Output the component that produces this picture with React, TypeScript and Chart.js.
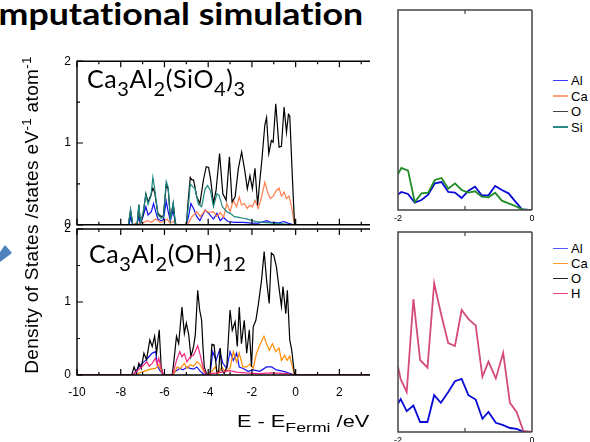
import React, { useEffect, useRef } from "react";
import { Chart, registerables } from "chart.js";

Chart.register(...registerables);
Chart.defaults.font.family = "'Liberation Sans', Arial, sans-serif";
Chart.defaults.color = "#000";

// ---------- Ca3Al2(SiO4)3 (upper left panel) ----------
const sioO_E = [-10, -7.65, -7.55, -7.45, -7.25, -7.17, -7.1, -6.98, -6.85, -6.75, -6.62, -6.53, -6.45, -6.3, -6.15, -6.05, -5.92, -5.83, -5.73, -5.6, -5.5, -5.4, -5.0, -4.9, -4.82, -4.75, -4.67, -4.52, -4.38, -4.21, -4.09, -3.98, -3.88, -3.76, -3.64, -3.48, -3.33, -3.18, -3.03, -2.91, -2.77, -2.62, -2.47, -2.32, -2.21, -2.09, -1.98, -1.86, -1.74, -1.64, -1.56, -1.41, -1.33, -1.23, -1.11, -1.03, -0.91, -0.76, -0.65, -0.53, -0.42, -0.33, -0.27, -0.15, -0.05, 3.5];
const sioO = [0, 0, 0.18, 0, 0.01, 0.24, 0.02, 0.12, 0.38, 0.28, 0.36, 0.45, 0.40, 0.14, 0.10, 0.11, 0.48, 0.44, 0.08, 0.26, 0.01, 0, 0, 0.34, 0.58, 0.55, 0.55, 0.34, 0.26, 0.56, 0.71, 0.70, 0.54, 0.26, 0.42, 0.87, 0.38, 0.30, 0.83, 0.28, 0.34, 0.69, 0.89, 0.65, 0.44, 0.60, 0.44, 0.69, 0.24, 0.54, 0.75, 1.22, 1.31, 0.87, 1.03, 1.01, 1.48, 0.95, 0.96, 1.44, 1.13, 1.35, 1.33, 0.58, 0, 0];

const sioSi_E = [-10, -7.65, -7.55, -7.45, -7.25, -7.17, -7.1, -6.98, -6.85, -6.75, -6.62, -6.53, -6.45, -6.3, -6.15, -6.05, -5.92, -5.83, -5.73, -5.6, -5.5, -5.4, -5.0, -4.9, -4.82, -4.72, -4.6, -4.45, -4.3, -4.14, -4.03, -3.9, -3.76, -3.6, -3.5, -3.35, -3.15, -3.0, -2.8, -2.6, -2.4, -2.2, -2.0, -1.8, -1.5, -1.0, -0.5, -0.1, 3.5];
const sioSi = [0, 0, 0.19, 0, 0.01, 0.25, 0.02, 0.15, 0.37, 0.25, 0.35, 0.58, 0.45, 0.12, 0.08, 0.09, 0.53, 0.46, 0.06, 0.27, 0.01, 0, 0, 0.25, 0.50, 0.47, 0.44, 0.25, 0.22, 0.44, 0.48, 0.42, 0.22, 0.38, 0.36, 0.22, 0.16, 0.14, 0.10, 0.09, 0.08, 0.07, 0.05, 0.04, 0.03, 0.02, 0.01, 0, 0];

const sioAl_E = [-10, -7.62, -7.55, -7.45, -7.25, -7.17, -7.1, -6.98, -6.85, -6.75, -6.6, -6.5, -6.42, -6.3, -6.15, -6.05, -5.92, -5.83, -5.73, -5.6, -5.5, -5.4, -5.0, -4.9, -4.79, -4.67, -4.52, -4.38, -4.14, -3.98, -3.76, -3.6, -3.45, -3.3, -3.1, -2.8, -2.4, -2.0, -1.7, -1.45, -1.33, -1.15, -0.95, -0.8, -0.55, -0.35, -0.1, 3.5];
const sioAl = [0, 0, 0.09, 0, 0.01, 0.10, 0.01, 0.10, 0.22, 0.12, 0.16, 0.26, 0.18, 0.07, 0.05, 0.06, 0.29, 0.16, 0.05, 0.18, 0.01, 0, 0, 0.10, 0.26, 0.20, 0.10, 0.05, 0.18, 0.14, 0.07, 0.14, 0.05, 0.09, 0.04, 0.03, 0.03, 0.02, 0.02, 0.04, 0.05, 0.03, 0.03, 0.02, 0.04, 0.02, 0, 0];

const sioCa_E = [-10, -7.4, -7.32, -7.2, -6.95, -6.79, -6.6, -6.41, -6.2, -6.03, -5.88, -5.75, -5.58, -5.45, -5.0, -4.89, -4.74, -4.52, -4.36, -4.14, -3.98, -3.76, -3.6, -3.45, -3.3, -3.15, -3.0, -2.85, -2.7, -2.58, -2.47, -2.35, -2.21, -2.09, -1.98, -1.86, -1.71, -1.56, -1.41, -1.26, -1.15, -1.03, -0.88, -0.76, -0.65, -0.53, -0.42, -0.3, -0.2, -0.05, 3.5];
const sioCa = [0, 0, 0.02, 0.01, 0.03, 0.05, 0.03, 0.07, 0.03, 0.04, 0.07, 0.02, 0.04, 0, 0, 0.03, 0.10, 0.16, 0.10, 0.18, 0.15, 0.16, 0.10, 0.15, 0.09, 0.26, 0.16, 0.30, 0.22, 0.34, 0.24, 0.26, 0.20, 0.24, 0.22, 0.30, 0.20, 0.34, 0.52, 0.38, 0.32, 0.35, 0.42, 0.45, 0.35, 0.40, 0.32, 0.35, 0.24, 0, 0];

// ---------- Ca3Al2(OH)12 (lower left panel) ----------
const ohO_E = [-10, -7.5, -7.39, -7.28, -7.17, -7.06, -6.94, -6.82, -6.67, -6.56, -6.45, -6.36, -6.24, -6.15, -6.06, -5.65, -5.58, -5.45, -5.35, -5.2, -5.09, -5.0, -4.89, -4.79, -4.67, -4.59, -4.48, -4.39, -4.3, -4.24, -4.18, -4.06, -3.92, -3.83, -3.73, -3.6, -3.52, -3.45, -3.38, -3.27, -3.15, -3.0, -2.9, -2.77, -2.67, -2.58, -2.48, -2.35, -2.24, -2.12, -2.02, -1.94, -1.82, -1.71, -1.56, -1.44, -1.33, -1.21, -1.11, -1.0, -0.88, -0.76, -0.65, -0.58, -0.45, -0.38, -0.27, -0.18, -0.05, 3.5];
const ohO = [0, 0, 0.11, 0.02, 0.16, 0.09, 0.30, 0.21, 0.48, 0.39, 0.53, 0.30, 0.62, 0.11, 0, 0, 0.16, 0.53, 0.43, 0.93, 0.57, 0.71, 0.55, 0.25, 0.39, 0.55, 1.16, 0.89, 0.75, 0.39, 0.11, 0, 0.02, 0.42, 0.41, 0.02, 0.05, 0.37, 0.07, 0.02, 0.11, 0.89, 0.61, 0.73, 0.39, 0.93, 0.43, 0.75, 0.30, 0.62, 0.11, 0.66, 0.75, 0.96, 1.30, 1.69, 1.30, 0.98, 1.67, 1.64, 1.48, 1.19, 0.94, 1.21, 0.84, 1.16, 0.48, 0.34, 0, 0];

const ohH_E = [-10, -7.45, -7.39, -7.2, -6.94, -6.8, -6.7, -6.56, -6.41, -6.33, -6.26, -6.15, -6.05, -5.65, -5.58, -5.45, -5.3, -5.2, -5.09, -4.97, -4.82, -4.67, -4.48, -4.36, -4.24, -4.12, -3.9, -3.6, -3.0, -2.7, -2.3, -1.7, -1.1, -0.4, -0.05, 3.5];
const ohH = [0, 0, 0.02, 0.07, 0.14, 0.18, 0.12, 0.16, 0.23, 0.14, 0.23, 0.09, 0, 0, 0.05, 0.20, 0.32, 0.25, 0.29, 0.18, 0.25, 0.27, 0.40, 0.27, 0.11, 0.01, 0.02, 0.03, 0.06, 0.04, 0.03, 0.02, 0.03, 0.02, 0, 0];

const ohCa_E = [-10, -7.4, -6.94, -6.64, -6.41, -6.26, -6.15, -6.05, -5.6, -5.42, -5.27, -5.09, -4.97, -4.82, -4.67, -4.52, -4.36, -4.21, -4.06, -3.83, -3.68, -3.53, -3.38, -3.23, -3.0, -2.85, -2.7, -2.58, -2.42, -2.24, -2.09, -1.94, -1.79, -1.64, -1.45, -1.33, -1.21, -1.06, -0.91, -0.76, -0.65, -0.5, -0.39, -0.27, -0.15, -0.05, 3.5];
const ohCa = [0, 0, 0.05, 0.08, 0.09, 0.14, 0.05, 0, 0, 0.11, 0.09, 0.16, 0.09, 0.14, 0.12, 0.18, 0.14, 0.05, 0, 0.05, 0.11, 0.02, 0.11, 0.05, 0.09, 0.32, 0.18, 0.30, 0.11, 0.11, 0.15, 0.09, 0.30, 0.41, 0.53, 0.43, 0.34, 0.43, 0.32, 0.37, 0.20, 0.27, 0.20, 0.26, 0.11, 0, 0];

const ohAl_E = [-10, -7.45, -7.39, -7.17, -7.02, -6.86, -6.71, -6.56, -6.41, -6.3, -6.18, -6.06, -5.65, -5.5, -5.3, -5.15, -4.97, -4.82, -4.67, -4.52, -4.36, -4.2, -3.91, -3.79, -3.64, -3.48, -3.33, -3.15, -3.0, -2.85, -2.7, -2.58, -2.4, -2.18, -1.94, -1.64, -1.33, -1.1, -0.88, -0.55, -0.24, -0.05, 3.5];
const ohAl = [0, 0, 0.02, 0.11, 0.16, 0.20, 0.25, 0.30, 0.32, 0.11, 0.05, 0, 0, 0.05, 0.09, 0.07, 0.11, 0.09, 0.08, 0.11, 0.05, 0.01, 0.02, 0.32, 0.20, 0.34, 0.16, 0.09, 0.32, 0.20, 0.30, 0.11, 0.09, 0.05, 0.07, 0.05, 0.11, 0.11, 0.07, 0.05, 0.02, 0, 0];

// ---------- zoomed panels (-2 .. 0 eV) ----------
const zSio_E = [-2.0, -1.95, -1.85, -1.75, -1.65, -1.55, -1.45, -1.35, -1.25, -1.15, -1.05, -0.95, -0.85, -0.75, -0.65, -0.55, -0.45, -0.35, -0.25, -0.15, -0.05, 0];
const zSioAl = [0.023, 0.027, 0.024, 0.011, 0.015, 0.023, 0.040, 0.042, 0.027, 0.026, 0.018, 0.029, 0.035, 0.022, 0.022, 0.036, 0.030, 0.025, 0.013, 0.001, 0, 0];
const zSioSi = [0.054, 0.063, 0.059, 0.012, 0.025, 0.026, 0.045, 0.048, 0.032, 0.040, 0.030, 0.026, 0.028, 0.020, 0.019, 0.026, 0.014, 0.010, 0.006, 0.001, 0, 0];

const zOh_E = [-2.0, -1.96, -1.87, -1.77, -1.67, -1.56, -1.46, -1.36, -1.25, -1.15, -1.05, -0.95, -0.84, -0.74, -0.65, -0.54, -0.43, -0.33, -0.23, -0.13, 0];
const zOhH = [0.0163, 0.0132, 0.0100, 0.0332, 0.0180, 0.0161, 0.0372, 0.0297, 0.0222, 0.0215, 0.0305, 0.0283, 0.0266, 0.0138, 0.0176, 0.0134, 0.0198, 0.0073, 0.0050, 0.0003, 0];
const zOhAl = [0.0071, 0.0082, 0.0052, 0.0066, 0.0025, 0.0025, 0.0092, 0.0073, 0.0100, 0.0127, 0.0133, 0.0092, 0.0081, 0.0033, 0.0050, 0.0023, 0.0017, 0.0010, 0.0008, 0.0001, 0];

// ---------- ticks ----------
const leftXLabels = [-10, -8, -6, -4, -2, 0, 2];
const leftXMarks = [-10, -9, -8, -7, -6, -5, -4, -3, -2, -1, 0, 1, 2, 3];
const leftYLabels = [0, 1, 2];
const leftYMarks = [0, 0.5, 1, 1.5, 2];
const rightXLabels = [-2, 0];
const rightXMarks = [-1];

const topLegend = ["Al", "Ca", "O", "Si"];
const topLegendColors = ["#3a3aff", "#ffa27c", "#444444", "#2a8a86"];
const botLegend = ["Al", "Ca", "O", "H"];
const botLegendColors = ["#5a5aff", "#ff9a30", "#222222", "#e8407f"];

const pts = (xs: number[], ys: number[]) => xs.map((x, i) => ({ x, y: ys[i] }));

const framePlugin = {
  id: "frame",
  afterDatasetsDraw(chart: any, _a: any, opts: any) {
    if (!opts || !opts.sides) return;
    const { ctx, chartArea: a, scales } = chart;
    const xs = scales.x, ys = scales.y;
    const s: string[] = opts.sides;
    ctx.save();
    ctx.strokeStyle = opts.color;
    ctx.lineWidth = opts.width;
    ctx.beginPath();
    if (s.includes("left")) { ctx.moveTo(a.left, a.top); ctx.lineTo(a.left, a.bottom); }
    if (s.includes("right")) { ctx.moveTo(a.right, a.top); ctx.lineTo(a.right, a.bottom); }
    if (s.includes("top")) { ctx.moveTo(a.left - opts.width / 2, a.top); ctx.lineTo(a.right, a.top); }
    if (s.includes("bottom")) { ctx.moveTo(a.left - opts.width / 2, a.bottom); ctx.lineTo(a.right, a.bottom); }
    ctx.stroke();
    ctx.lineWidth = opts.tickWidth;
    ctx.beginPath();
    (opts.xTicks || []).forEach((v: number) => {
      const px = xs.getPixelForValue(v);
      const len = (opts.xMajor || []).includes(v) ? opts.majorLen : opts.minorLen;
      if (s.includes("bottom")) { ctx.moveTo(px, a.bottom); ctx.lineTo(px, a.bottom - len); }
      if (s.includes("top")) { ctx.moveTo(px, a.top); ctx.lineTo(px, a.top + len); }
    });
    (opts.yTicks || []).forEach((v: number) => {
      const py = ys.getPixelForValue(v);
      const len = (opts.yMajor || []).includes(v) ? opts.majorLen : opts.minorLen;
      if (s.includes("left")) { ctx.moveTo(a.left, py); ctx.lineTo(a.left + len, py); }
    });
    ctx.stroke();
    ctx.restore();
  },
};
Chart.register(framePlugin as any);

const line = (label: string, data: any, color: string, w = 1.2) => ({
  label, data, borderColor: color, backgroundColor: color, borderWidth: w,
  pointRadius: 0, tension: 0, fill: false,
});

const leftFrame = {
  sides: ["left", "top", "bottom"], color: "#000", width: 1.4, tickWidth: 1.2,
  xTicks: leftXMarks, xMajor: leftXLabels, yTicks: leftYMarks, yMajor: leftYLabels,
  majorLen: 6, minorLen: 3,
};

const yLeftScale = () => ({
  type: "linear", min: 0, max: 2,
  afterFit: (s: any) => { s.width = 30; },
  afterBuildTicks: (s: any) => { s.ticks = leftYLabels.map((v) => ({ value: v })); },
  grid: { display: false, drawTicks: false },
  border: { display: false },
  ticks: { padding: 6, color: "#000", font: { size: 12 } },
});

const baseOpts = (padding: any, scales: any, frame: any) => ({
  animation: false, responsive: false, maintainAspectRatio: false,
  layout: { padding, autoPadding: false },
  plugins: { legend: { display: false }, tooltip: { enabled: false }, frame },
  scales,
});

const makeTopLeft = () => ({
  type: "line",
  data: { datasets: [
    line("Si", pts(sioSi_E, sioSi), "#17877f"),
    line("O", pts(sioO_E, sioO), "#000000"),
    line("Ca", pts(sioCa_E, sioCa), "#ff7f50"),
    line("Al", pts(sioAl_E, sioAl), "#1212f0"),
  ] },
  options: baseOpts({ left: 17, top: 11, right: 10, bottom: 9 }, {
    x: { type: "linear", min: -10, max: 3.4, display: false },
    y: yLeftScale(),
  }, leftFrame),
});

const makeBotLeft = () => ({
  type: "line",
  data: { datasets: [
    line("H", pts(ohH_E, ohH), "#f0287f"),
    line("O", pts(ohO_E, ohO), "#000000"),
    line("Ca", pts(ohCa_E, ohCa), "#ff8c00"),
    line("Al", pts(ohAl_E, ohAl), "#1212f0"),
  ] },
  options: baseOpts({ left: 17, top: 14, right: 10, bottom: 10 }, {
    x: {
      type: "linear", min: -10, max: 3.4,
      afterFit: (s: any) => { s.height = 30; },
      afterBuildTicks: (s: any) => { s.ticks = leftXLabels.map((v) => ({ value: v })); },
      grid: { display: false, drawTicks: false },
      border: { display: false },
      ticks: { padding: 10, color: "#000", font: { size: 12 }, maxRotation: 0, autoSkip: false },
    },
    y: yLeftScale(),
  }, leftFrame),
});

const rightFrame = {
  sides: ["left", "right", "top", "bottom"], color: "#444", width: 1.5, tickWidth: 1.2,
  xTicks: rightXMarks, xMajor: [], yTicks: [], yMajor: [], majorLen: 4, minorLen: 4,
};

const rightX = (pad: number) => ({
  type: "linear", min: -2, max: 0,
  afterFit: (s: any) => { s.height = 14; },
  afterBuildTicks: (s: any) => { s.ticks = rightXLabels.map((v) => ({ value: v })); },
  grid: { display: false, drawTicks: false },
  border: { display: false },
  ticks: { padding: pad, color: "#000", font: { size: 9 }, maxRotation: 0, autoSkip: false },
});

const makeTopRight = () => ({
  type: "line",
  data: { datasets: [
    line("Si", pts(zSio_E, zSioSi), "#1f8b24", 1.8),
    line("Al", pts(zSio_E, zSioAl), "#0a0ad8", 1.8),
  ] },
  options: baseOpts({ left: 8, top: 8, right: 8, bottom: 3 }, {
    x: rightX(3),
    y: { type: "linear", min: 0, max: 0.3, display: false },
  }, rightFrame),
});

const makeBotRight = () => ({
  type: "line",
  data: { datasets: [
    line("H", pts(zOh_E, zOhH), "#d44a7c", 1.8),
    line("Al", pts(zOh_E, zOhAl), "#0a0ad8", 1.8),
  ] },
  options: baseOpts({ left: 8, top: 8, right: 8, bottom: -4 }, {
    x: rightX(3),
    y: { type: "linear", min: 0, max: 0.05, display: false },
  }, rightFrame),
});

function ChartCanvas({ make, left, top, width, height }: any) {
  const ref = useRef<HTMLCanvasElement>(null);
  useEffect(() => {
    const chart = new Chart(ref.current as HTMLCanvasElement, make());
    return () => chart.destroy();
  }, []);
  return (
    <canvas ref={ref} width={width} height={height}
      style={{ position: "absolute", left, top, width, height }} />
  );
}

const subStyle: React.CSSProperties = { fontSize: "0.8em", position: "relative", top: "0.42em" };

function Legend({ labels, colors, top, step }: any) {
  return (
    <>
      {labels.map((l: string, i: number) => (
        <div key={l} style={{ position: "absolute", left: 553, top: top + i * step, height: 16, lineHeight: "15.5px", fontSize: 13, whiteSpace: "nowrap" }}>
          <span style={{ display: "inline-block", width: 15, height: 1.5, background: colors[i], verticalAlign: "middle", marginRight: 3, position: "relative", top: -1 }} />
          {l}
        </div>
      ))}
    </>
  );
}

const labelStyle: React.CSSProperties = {
  position: "absolute", font: "400 25px Lato", lineHeight: "25px", whiteSpace: "nowrap",
  letterSpacing: "0.6px",
};

export default function App() {
  return (
    <div style={{ position: "absolute", left: 0, top: 0, width: 590, height: 442, overflow: "hidden", background: "#fff", color: "#000", fontFamily: "'Liberation Sans', Arial, sans-serif" }}>
      <div style={{ position: "absolute", right: 227, top: -2, whiteSpace: "nowrap", font: "700 30px Lato", lineHeight: "30px", fontVariantLigatures: "none", transform: "scaleX(1.19)", transformOrigin: "right center" }}>
        Computational simulation
      </div>
      <svg style={{ position: "absolute", left: 0, top: 240 }} width={20} height={30}>
        <polygon points="0,12 5,5 12,13 0,22" fill="#4f81bd" />
      </svg>

      <ChartCanvas make={makeTopLeft} left={30} top={48} width={350} height={190} />
      <ChartCanvas make={makeBotLeft} left={30} top={215} width={350} height={200} />
      <ChartCanvas make={makeTopRight} left={390} top={2} width={150} height={225} />
      <ChartCanvas make={makeBotRight} left={390} top={224} width={150} height={218} />

      <div style={{ ...labelStyle, left: 87, top: 66 }}>
        Ca<span style={subStyle}>3</span>Al<span style={subStyle}>2</span>(SiO<span style={subStyle}>4</span>)<span style={subStyle}>3</span>
      </div>
      <div style={{ ...labelStyle, left: 89, top: 241 }}>
        Ca<span style={subStyle}>3</span>Al<span style={subStyle}>2</span>(OH)<span style={subStyle}>12</span>
      </div>

      <div style={{ position: "absolute", left: -168, top: 205, width: 400, height: 20, lineHeight: "20px", fontSize: 19, letterSpacing: "0.35px", textAlign: "center", whiteSpace: "nowrap", transform: "rotate(-90deg)" }}>
        Density of States /states eV<sup style={{ fontSize: "0.7em", lineHeight: 0 }}>-1</sup> atom<sup style={{ fontSize: "0.7em", lineHeight: 0 }}>-1</sup>
      </div>
      <div style={{ position: "absolute", left: 237, top: 413, lineHeight: "18px", fontSize: 16, whiteSpace: "nowrap", transform: "scaleX(1.36)", transformOrigin: "left center" }}>
        E - E<span style={{ fontSize: 13, position: "relative", top: 5 }}>Fermi</span> /eV
      </div>

      <Legend labels={topLegend} colors={topLegendColors} top={73} step={15.5} />
      <Legend labels={botLegend} colors={botLegendColors} top={241} step={15} />
    </div>
  );
}
